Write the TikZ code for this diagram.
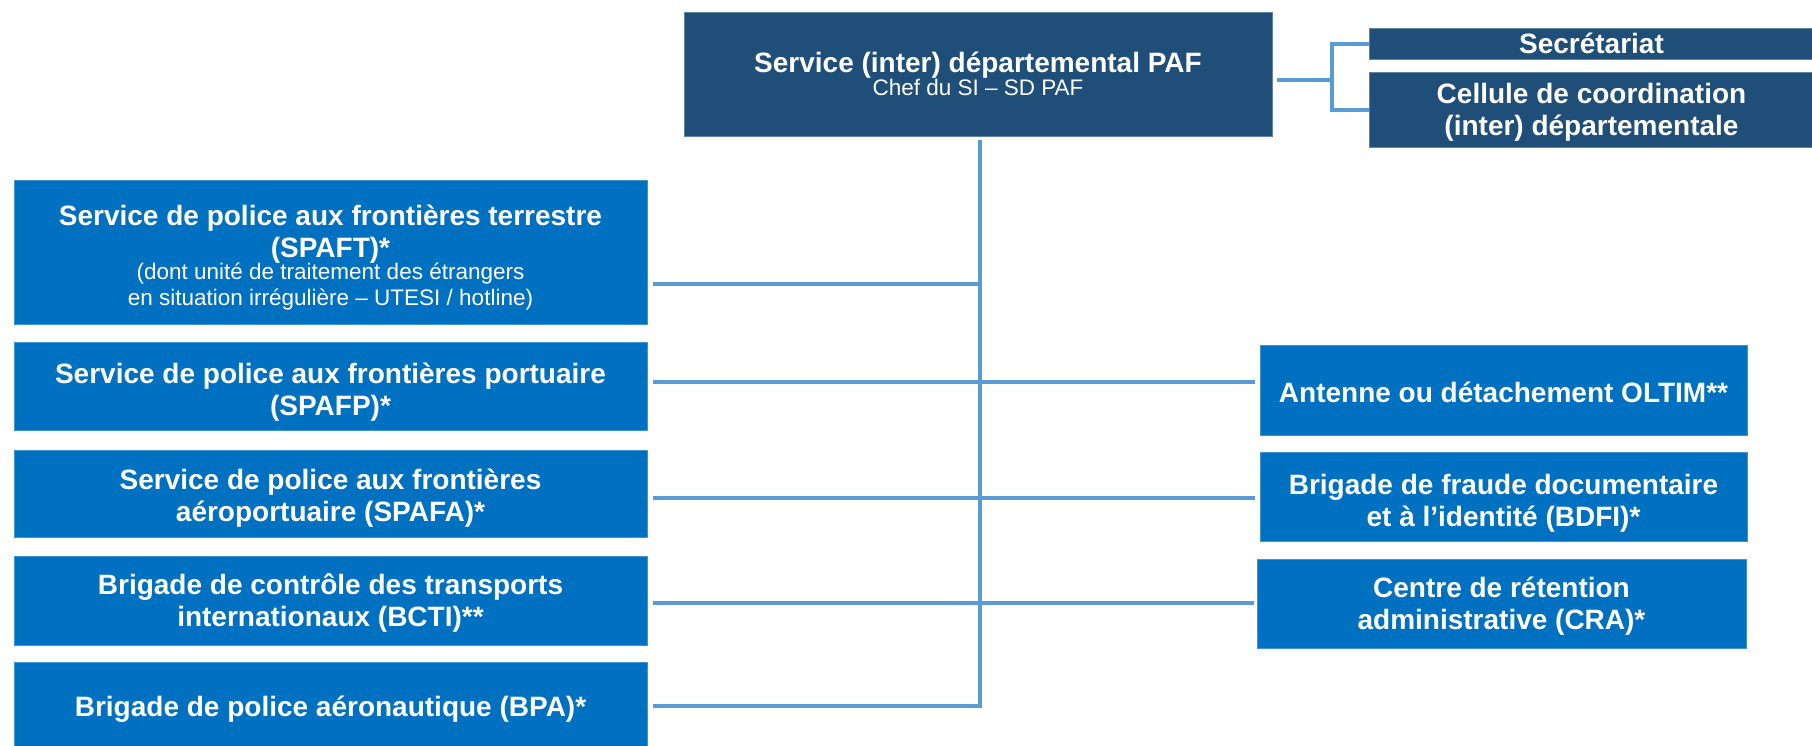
\documentclass[tikz,border=0pt]{standalone}
\usepackage{fontspec}
\setmainfont{Liberation Sans}
\definecolor{navy}{RGB}{31,78,121}
\definecolor{midblue}{RGB}{0,112,192}
\definecolor{linkblue}{RGB}{91,155,213}
\tikzset{
  orgbox/.style={anchor=north west, inner sep=0pt, outer sep=0pt, align=center,
    text=white, font=\bfseries\fontsize{28}{32}\selectfont},
  darkbox/.style={orgbox, fill=navy, draw=navy!70!white, line width=0.8pt},
  bluebox/.style={orgbox, fill=midblue, draw=midblue!75!white, line width=0.8pt},
  conn/.style={draw=linkblue, line width=4pt}
}
\newcommand{\smallfnt}{\mdseries\fontsize{22.5}{25}\selectfont}
\newcommand{\tsr}[1]{\rule{0pt}{#1pt}}
\begin{document}
\begin{tikzpicture}[x=1pt,y=-1pt]
\useasboundingbox (0,0) rectangle (1812,745);
% top level
\node[darkbox, minimum width=588, minimum height=124] (top) at (684,12)
  {Service (inter) départemental PAF\\[-9pt]\smallfnt Chef du SI -- SD PAF};
\node[darkbox, minimum width=445, minimum height=31] (sec) at (1369,28) {Secrétariat};
\node[darkbox, minimum width=445, minimum height=75] (cel) at (1369,72)
  {\tsr{25.5}Cellule de coordination\\(inter) départementale};
% left column
\node[bluebox, minimum width=633, minimum height=144] (spaft) at (14,180)
  {\tsr{31}Service de police aux frontières terrestre\\(SPAFT)*\\[-10pt]\smallfnt (dont unité de traitement des étrangers\\[-6pt]\smallfnt en situation irrégulière -- UTESI / hotline)};
\node[bluebox, minimum width=633, minimum height=88] (spafp) at (14,342)
  {\tsr{33}Service de police aux frontières portuaire\\(SPAFP)*};
\node[bluebox, minimum width=633, minimum height=87] (spafa) at (14,450)
  {\tsr{30}Service de police aux frontières\\aéroportuaire (SPAFA)*};
\node[bluebox, minimum width=633, minimum height=89] (bcti) at (14,556)
  {\tsr{25.6}Brigade de contrôle des transports\\internationaux (BCTI)**};
\node[bluebox, minimum width=633, minimum height=85] (bpa) at (14,662)
  {\tsr{30}Brigade de police aéronautique (BPA)*};
% right column
\node[bluebox, minimum width=487, minimum height=90] (ant) at (1260,345)
  {\tsr{25.6}Antenne ou détachement OLTIM**};
\node[bluebox, minimum width=487, minimum height=89] (bdfi) at (1260,452)
  {\tsr{33}Brigade de fraude documentaire\\et à l’identité (BDFI)*};
\node[bluebox, minimum width=489, minimum height=89] (cra) at (1257,559)
  {\tsr{25}Centre de rétention\\administrative (CRA)*};
% trunk coordinates
\coordinate (t0) at (980,140);
\coordinate (j1) at (980,284);
\coordinate (j2) at (980,382);
\coordinate (j3) at (980,498);
\coordinate (j4) at (980,603);
\coordinate (j5) at (980,706);
\coordinate (sj) at (1332,80);
% connectors
\draw[conn] (t0) -- ([yshift=2pt]j5);
\draw[conn] ([xshift=6pt]spaft.east |- j1) -- (j1);
\draw[conn] ([xshift=6pt]spafp.east |- j2) -- ([xshift=-5pt]ant.west |- j2);
\draw[conn] ([xshift=6pt]spafa.east |- j3) -- ([xshift=-5pt]bdfi.west |- j3);
\draw[conn] ([xshift=6pt]bcti.east |- j4) -- ([xshift=-3pt]cra.west |- j4);
\draw[conn] ([xshift=6pt]bpa.east |- j5) -- ([xshift=2pt]j5);
\draw[conn] ([xshift=5pt]top.east |- sj) -- (sj);
\draw[conn] ([yshift=-2pt]sj |- sec.west) -- ([yshift=2pt]sj |- cel.west);
\draw[conn] ([xshift=-2pt]sj |- sec.west) -- (sec.west);
\draw[conn] ([xshift=-2pt]sj |- cel.west) -- (cel.west);
\end{tikzpicture}
\end{document}
